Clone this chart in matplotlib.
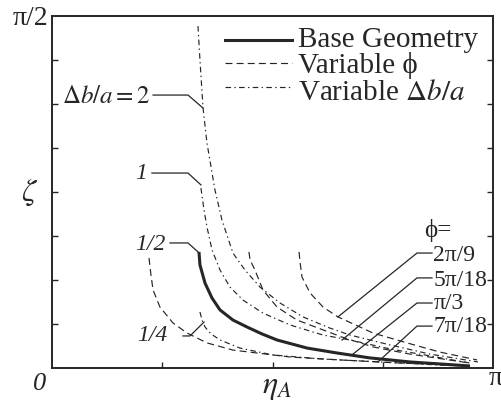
import matplotlib
matplotlib.use("Agg")
import matplotlib.pyplot as plt
from matplotlib.lines import Line2D
import numpy as np

plt.rcParams['font.family'] = ['Liberation Serif', 'STIXGeneral', 'DejaVu Serif']
plt.rcParams['mathtext.fontset'] = 'stix'
plt.rcParams['lines.scale_dashes'] = False

PI = np.pi

# ---- data: zeta versus eta_A (radians) ----
# Base geometry (phi = pi/3, delta b / a = 1/2)
base_eta = [1.047, 1.054, 1.090, 1.140, 1.197, 1.289, 1.389, 1.496, 1.603,
            1.817, 2.030, 2.265, 2.550, 2.978]
base_zeta = [0.518, 0.460, 0.379, 0.312, 0.259, 0.214, 0.183, 0.152, 0.125,
             0.089, 0.067, 0.045, 0.027, 0.009]

# Variable delta b / a
dba2_eta = [1.040, 1.054, 1.076, 1.104, 1.161, 1.211, 1.289, 1.375, 1.482,
            1.624, 1.788, 1.980, 2.123, 2.408, 2.693, 3.035]
dba2_zeta = [1.526, 1.374, 1.160, 1.004, 0.794, 0.660, 0.513, 0.437, 0.361,
             0.290, 0.228, 0.178, 0.147, 0.103, 0.062, 0.027]

dba1_eta = [1.061, 1.083, 1.104, 1.140, 1.197, 1.268, 1.361, 1.503, 1.696,
            1.931, 2.123, 2.408, 2.693, 2.978]
dba1_zeta = [0.803, 0.705, 0.629, 0.527, 0.437, 0.361, 0.303, 0.245, 0.192,
             0.147, 0.125, 0.085, 0.054, 0.022]

dba14_eta = [1.054, 1.069, 1.090, 1.133, 1.197, 1.339, 1.574, 1.931, 2.337,
             2.764, 2.978]
dba14_zeta = [0.250, 0.214, 0.183, 0.152, 0.125, 0.089, 0.058, 0.040, 0.027,
              0.013, 0.009]

# Variable phi
phi_2pi9_eta = [1.760, 1.767, 1.781, 1.838, 1.931, 2.037, 2.287, 2.529,
                2.764, 3.028]
phi_2pi9_zeta = [0.518, 0.473, 0.406, 0.335, 0.272, 0.228, 0.156, 0.112,
                 0.071, 0.036]

phi_5pi18_eta = [1.403, 1.411, 1.446, 1.503, 1.603, 1.745, 1.931, 2.066,
                 2.287, 2.550, 2.978]
phi_5pi18_zeta = [0.518, 0.482, 0.437, 0.348, 0.272, 0.214, 0.170, 0.138,
                  0.094, 0.062, 0.022]

phi_7pi18_eta = [0.691, 0.705, 0.720, 0.769, 0.862, 0.962, 1.104, 1.289,
                 1.460, 1.696, 2.052, 2.479, 2.907]
phi_7pi18_zeta = [0.491, 0.415, 0.348, 0.272, 0.201, 0.156, 0.112, 0.080,
                  0.067, 0.049, 0.036, 0.022, 0.013]

dba_labels = [r"$\Delta b/a=2$", "1", "1/2", "1/4"]
phi_labels = ["2π/9", "5π/18", "π/3", "7π/18"]

INK = "#262626"
DASH = (0, (5.0, 3.0))
DASHDOT = (0, (4.0, 2.4, 1.0, 2.4))

fig = plt.figure(figsize=(5.02, 4.08), dpi=100)
ax = fig.add_axes([52 / 502, 1 - 368 / 408, 441 / 502, 352 / 408])
ax.set_xlim(0, PI)
ax.set_ylim(0, PI / 2)

thin = 0.85
ax.plot(phi_2pi9_eta, phi_2pi9_zeta, color=INK, lw=thin, ls=DASH)
ax.plot(phi_5pi18_eta, phi_5pi18_zeta, color=INK, lw=thin, ls=DASH)
ax.plot(phi_7pi18_eta, phi_7pi18_zeta, color=INK, lw=thin, ls=DASH)
ax.plot(dba2_eta, dba2_zeta, color=INK, lw=thin, ls=DASHDOT)
ax.plot(dba1_eta, dba1_zeta, color=INK, lw=thin, ls=DASHDOT)
ax.plot(dba14_eta, dba14_zeta, color=INK, lw=thin, ls=DASHDOT)
ax.plot(base_eta, base_zeta, color=INK, lw=2.2, solid_capstyle='butt')

# ---- leader lines with their labels ----
lead_kw = dict(color=INK, lw=0.9)
FS_LEG = 21
FS_LBL = 17

# delta b / a labels (text right-aligned at the start of each leader)
dba_leaders = [
    [(0.720, 1.218), (0.969, 1.218), (1.076, 1.160)],
    [(0.712, 0.870), (0.969, 0.870), (1.061, 0.817)],
    [(0.841, 0.558), (0.969, 0.558), (1.040, 0.518)],
    [(0.933, 0.143), (0.983, 0.143), (1.083, 0.205)],
]
dba_text_pos = [(0.700, 1.208), (0.677, 0.868), (0.812, 0.551), (0.826, 0.145)]
for lbl, pts, (tx, ty) in zip(dba_labels, dba_leaders, dba_text_pos):
    xs, ys = zip(*pts)
    ax.plot(xs, ys, **lead_kw)
    is_math = lbl.startswith('$')
    ax.text(tx, ty, lbl, fontsize=FS_LBL + (1 if is_math else 0),
            ha='right', va='center',
            fontstyle='normal' if is_math else 'italic', color=INK)

phi_leaders = [
    [(2.037, 0.228), (2.600, 0.513), (2.707, 0.513)],
    [(2.066, 0.125), (2.600, 0.402), (2.707, 0.402)],
    [(2.144, 0.062), (2.600, 0.290), (2.707, 0.290)],
    [(2.322, 0.027), (2.600, 0.187), (2.707, 0.187)],
]
phi_text_y = [0.500, 0.392, 0.287, 0.183]
for lbl, pts, ty in zip(phi_labels, phi_leaders, phi_text_y):
    xs, ys = zip(*pts)
    ax.plot(xs, ys, **lead_kw)
    ax.text(2.716, ty, lbl, fontsize=FS_LBL, ha='left', va='center',
            color=INK)
ax.text(2.745, 0.612, "ϕ=", fontsize=FS_LBL + 1, ha='center', va='center',
        color=INK)

# ---- legend drawn in axes fraction ----
legend_rows = [("Base Geometry", '-', 2.2, 0.932, 0.911),
               ("Variable ϕ", DASH, thin, 0.866, 0.838),
               ("Variable $\\Delta b/a$", DASHDOT, thin, 0.798, 0.761)]
for text, ls, lw, yl, yt in legend_rows:
    ax.add_line(Line2D([0.392, 0.544], [yl, yl], transform=ax.transAxes,
                       color=INK, lw=lw, ls=ls))
    ax.text(0.558, yt, text, transform=ax.transAxes, fontsize=FS_LEG,
            ha='left', va='baseline', color=INK)

# ---- axes frame and ticks ----
for s in ax.spines.values():
    s.set_linewidth(1.4)
    s.set_color(INK)
ax.set_xticks([PI / 4, PI / 2, 3 * PI / 4])
ax.set_yticks([k * PI / 16 for k in range(1, 8)])
ax.tick_params(direction='in', length=4, width=1.0, color=INK,
               labelbottom=False, labelleft=False, right=True, top=False)

ax.text(-0.009, 0.994, "π/2", transform=ax.transAxes, fontsize=20,
        ha='right', va='center', color=INK)
ax.text(-0.027, -0.045, "0", transform=ax.transAxes, fontsize=19,
        ha='center', va='center', fontstyle='italic', color=INK)
ax.text(1.005, -0.030, "π", transform=ax.transAxes, fontsize=20,
        ha='center', va='center', color=INK)
ax.text(0.510, -0.055, r"$\eta_A$", transform=ax.transAxes, fontsize=23,
        ha='center', va='center', color=INK)
ax.text(-0.050, 0.497, r"$\zeta$", transform=ax.transAxes, fontsize=23,
        ha='center', va='center', color=INK)

fig.savefig("out.png", dpi=100)
